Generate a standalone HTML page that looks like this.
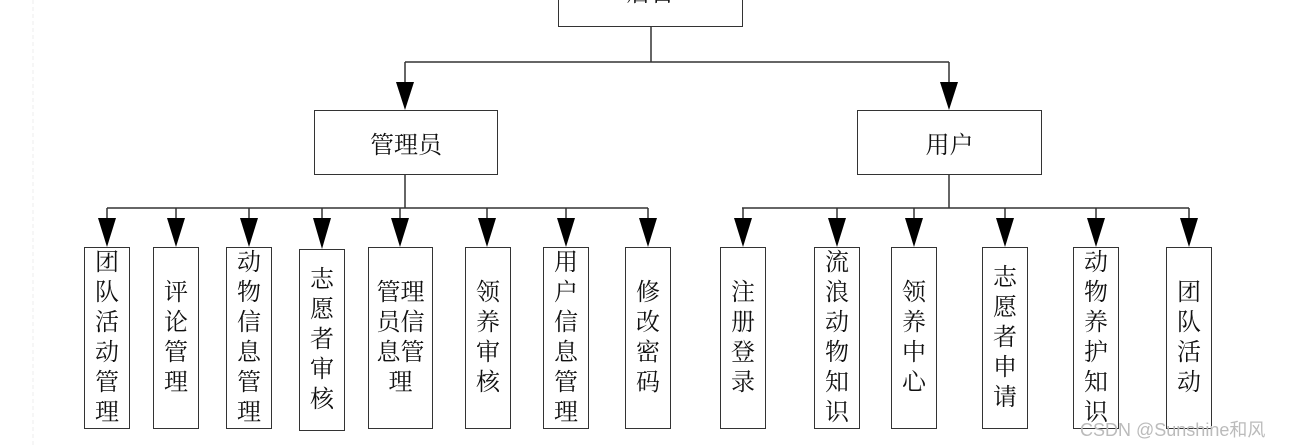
<!DOCTYPE html>
<html><head><meta charset="utf-8"><style>
body{margin:0;width:1289px;height:448px;background:#fff;position:relative;overflow:hidden;font-family:"Liberation Serif","Noto Serif CJK SC",serif;}
.b{position:absolute;border:1.5px solid #333;box-sizing:border-box;display:flex;align-items:center;justify-content:center;text-align:center;color:#111;background:#fff}
.v{font-size:24px;line-height:30px;word-break:break-all;overflow:visible}
.h{font-size:24px}
svg{position:absolute;left:0;top:0}
.wm{position:absolute;left:1080px;top:416px;font-family:"Liberation Sans","Noto Sans CJK SC",sans-serif;font-size:18px;color:#bbb}
</style></head><body>
<svg width="1289" height="448">
<line x1="33" y1="0" x2="33" y2="448" stroke="#eee" stroke-dasharray="4 3"/>
<g stroke="#333" stroke-width="1.5" fill="none">
<path d="M651 27V62M405 62H949M405 62V82M949 62V82"/>
<path d="M405 174V208M107 208H648M949 174V208M742 208H1189"/>
<path d="M107 208V218M176 208V218M249 208V218M322 208V218M400 208V218M487 208V218M566 208V218M648 208V218"/>
<path d="M743 208V218M837 208V218M914 208V218M1005 208V218M1096 208V218M1189 208V218"/>
</g>
<g fill="#000">
<polygon points="396,82 414,82 405,110"/><polygon points="940,82 958,82 949,110"/>
<polygon points="98,218 116,218 107,247"/><polygon points="167,218 185,218 176,247"/>
<polygon points="240,218 258,218 249,247"/><polygon points="313,218 331,218 322,249"/>
<polygon points="391,218 409,218 400,247"/><polygon points="478,218 496,218 487,247"/>
<polygon points="557,218 575,218 566,247"/><polygon points="639,218 657,218 648,247"/>
<polygon points="734,218 752,218 743,247"/><polygon points="828,218 846,218 837,247"/>
<polygon points="905,218 923,218 914,247"/><polygon points="996,218 1014,218 1005,247"/>
<polygon points="1087,218 1105,218 1096,247"/><polygon points="1180,218 1198,218 1189,247"/>
</g>
</svg>
<div class="b h" style="left:558px;top:-40px;width:185px;height:67px;align-items:flex-end;padding-bottom:20px;line-height:1">后台</div>
<div class="b h" style="left:314px;top:110px;width:184px;height:65px">管理员</div>
<div class="b h" style="left:857px;top:110px;width:185px;height:65px">用户</div>

<div class="b v" style="left:84px;top:247px;width:46px;height:182px">团队活动管理</div>
<div class="b v" style="left:153px;top:247px;width:46px;height:182px">评论管理</div>
<div class="b v" style="left:226px;top:247px;width:46px;height:182px">动物信息管理</div>
<div class="b v" style="left:299px;top:249px;width:46px;height:182px">志愿者审核</div>
<div class="b v" style="left:368px;top:247px;width:65px;height:182px"><span style="width:50px">管理员信息管理</span></div>
<div class="b v" style="left:465px;top:247px;width:46px;height:182px">领养审核</div>
<div class="b v" style="left:543px;top:247px;width:46px;height:182px">用户信息管理</div>
<div class="b v" style="left:625px;top:247px;width:46px;height:182px">修改密码</div>

<div class="b v" style="left:720px;top:247px;width:46px;height:182px">注册登录</div>
<div class="b v" style="left:814px;top:247px;width:46px;height:182px">流浪动物知识</div>
<div class="b v" style="left:891px;top:247px;width:46px;height:182px">领养中心</div>
<div class="b v" style="left:982px;top:247px;width:46px;height:182px">志愿者申请</div>
<div class="b v" style="left:1073px;top:247px;width:46px;height:182px">动物养护知识</div>
<div class="b v" style="left:1166px;top:247px;width:46px;height:182px">团队活动</div>
<div class="wm">CSDN @Sunshine和风</div>
</body></html>
